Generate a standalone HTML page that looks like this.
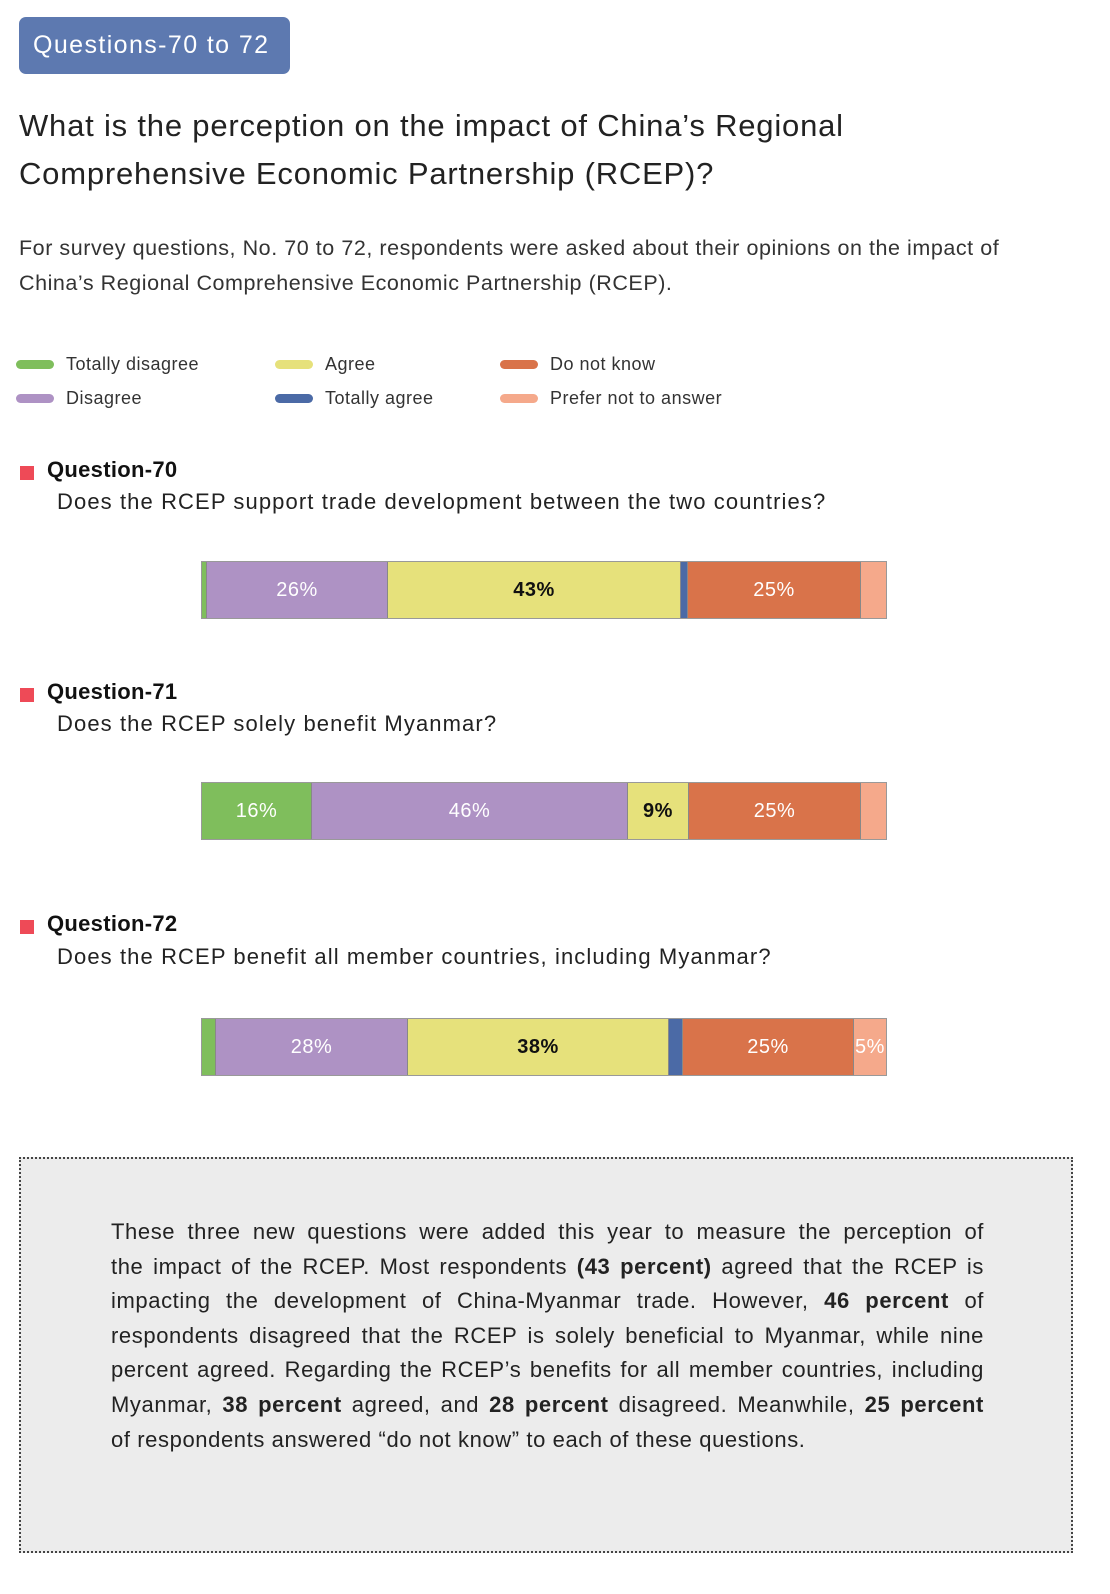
<!DOCTYPE html>
<html><head><meta charset="utf-8"><style>
*{margin:0;padding:0;box-sizing:border-box}
body{width:1110px;height:1594px;background:#fff;font-family:"Liberation Sans",sans-serif;color:#1a1a1a;position:relative;overflow:hidden}
.abs{position:absolute;white-space:nowrap}
.pill{left:19px;top:17px;width:271px;height:57px;background:#5d79b0;border-radius:7px;color:#fff;font-size:25px;line-height:57px;padding-left:14px;letter-spacing:1.4px}
.title{left:19px;top:102px;font-size:31px;line-height:48px;color:#222;letter-spacing:0.8px}
.intro{left:19px;top:231px;font-size:21.5px;line-height:35px;color:#333;letter-spacing:0.55px}
.leg{font-size:18px;color:#333;line-height:20px;letter-spacing:0.5px}
.sw{position:absolute;width:38px;height:9px;border-radius:5px}
.qh{font-size:22px;font-weight:bold;color:#111;letter-spacing:0.3px}
.qt{font-size:22px;color:#222;letter-spacing:1.1px}
.sq{position:absolute;width:14px;height:14px;background:#ee4a57}
.bar{position:absolute;height:58px;border:1px solid #999;display:flex}
.bar div{height:100%;display:flex;align-items:center;justify-content:center;font-size:20px;color:#fff;border-right:1px solid #888;letter-spacing:0.5px}
.g{background:#7fbe5c}.p{background:#ae92c4}.y{background:#e6e17b;color:#111!important;font-weight:bold}.b{background:#4b6aa6}.o{background:#d9734a}.s{background:#f5a98b}
.box{position:absolute;left:19px;top:1157px;width:1054px;height:396px;background:#ececec;border:2px dotted #444}
.box .t{position:absolute;left:90px;top:56px;width:873px;font-size:22px;line-height:34.6px;color:#222;letter-spacing:0.6px}
.box .t div{text-align:justify;text-align-last:justify;white-space:nowrap}
.box .t div.l{text-align-last:left}
</style></head><body>
<div class="abs pill">Questions-70 to 72</div>
<div class="abs title">What is the perception on the impact of China’s Regional<br>Comprehensive Economic Partnership (RCEP)?</div>
<div class="abs intro">For survey questions, No. 70 to 72, respondents were asked about their opinions on the impact of<br>China’s Regional Comprehensive Economic Partnership (RCEP).</div>

<div class="sw" style="left:16px;top:360px;background:#7fbe5c"></div><div class="abs leg" style="left:66px;top:354px">Totally disagree</div>
<div class="sw" style="left:16px;top:394px;background:#ae92c4"></div><div class="abs leg" style="left:66px;top:388px">Disagree</div>
<div class="sw" style="left:275px;top:360px;background:#e6e17b"></div><div class="abs leg" style="left:325px;top:354px">Agree</div>
<div class="sw" style="left:275px;top:394px;background:#4b6aa6"></div><div class="abs leg" style="left:325px;top:388px">Totally agree</div>
<div class="sw" style="left:500px;top:360px;background:#d9734a"></div><div class="abs leg" style="left:550px;top:354px">Do not know</div>
<div class="sw" style="left:500px;top:394px;background:#f5a98b"></div><div class="abs leg" style="left:550px;top:388px">Prefer not to answer</div>

<div class="sq" style="left:20px;top:466px"></div>
<div class="abs qh" style="left:47px;top:457px">Question-70</div>
<div class="abs qt" style="left:57px;top:489px">Does the RCEP support trade development between the two countries?</div>
<div class="bar" style="left:201px;top:561px;width:686px">
<div class="g" style="width:5px"></div><div class="p" style="width:181px">26%</div><div class="y" style="width:293px">43%</div><div class="b" style="width:7px"></div><div class="o" style="width:173px">25%</div><div class="s" style="width:25px;border:0"></div></div>

<div class="sq" style="left:20px;top:688px"></div>
<div class="abs qh" style="left:47px;top:679px">Question-71</div>
<div class="abs qt" style="left:57px;top:711px">Does the RCEP solely benefit Myanmar?</div>
<div class="bar" style="left:201px;top:782px;width:686px">
<div class="g" style="width:110px">16%</div><div class="p" style="width:316px">46%</div><div class="y" style="width:61px">9%</div><div class="o" style="width:172px">25%</div><div class="s" style="width:25px;border:0"></div></div>

<div class="sq" style="left:20px;top:920px"></div>
<div class="abs qh" style="left:47px;top:911px">Question-72</div>
<div class="abs qt" style="left:57px;top:944px">Does the RCEP benefit all member countries, including Myanmar?</div>
<div class="bar" style="left:201px;top:1018px;width:686px">
<div class="g" style="width:14px"></div><div class="p" style="width:192px">28%</div><div class="y" style="width:261px">38%</div><div class="b" style="width:14px"></div><div class="o" style="width:171px">25%</div><div class="s" style="width:32px;border:0">5%</div></div>

<div class="box"><div class="t">
<div>These three new questions were added this year to measure the perception of</div>
<div>the impact of the RCEP. Most respondents <b>(43 percent)</b> agreed that the RCEP is</div>
<div>impacting the development of China-Myanmar trade. However, <b>46 percent</b> of</div>
<div>respondents disagreed that the RCEP is solely beneficial to Myanmar, while nine</div>
<div>percent agreed. Regarding the RCEP’s benefits for all member countries, including</div>
<div>Myanmar, <b>38 percent</b> agreed, and <b>28 percent</b> disagreed. Meanwhile, <b>25 percent</b></div>
<div class="l">of respondents answered “do not know” to each of these questions.</div>
</div></div>
</body></html>
